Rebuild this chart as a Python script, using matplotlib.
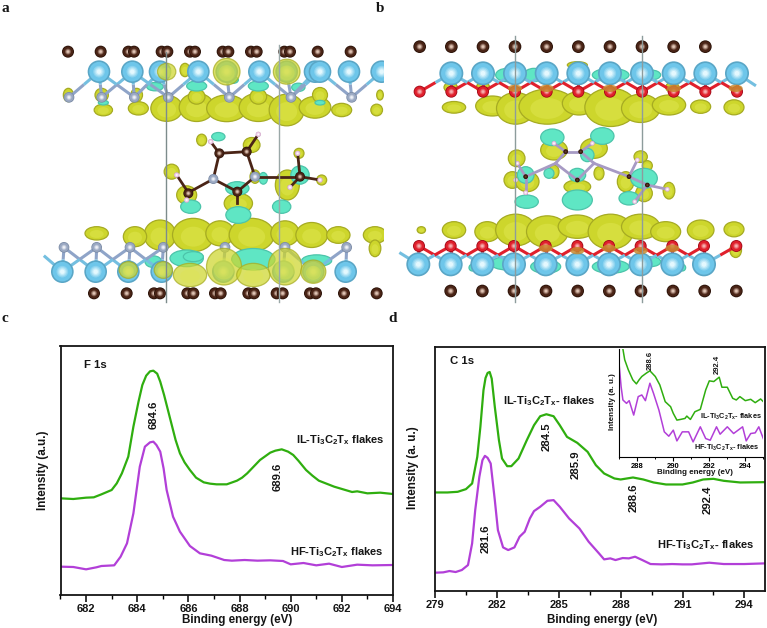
import matplotlib
matplotlib.use("Agg")
import matplotlib.pyplot as plt
import numpy as np
from matplotlib.colors import to_rgb
from matplotlib.patches import Circle, Ellipse

plt.rcParams['font.family'] = ['Liberation Sans', 'DejaVu Sans']
plt.rcParams['mathtext.default'] = 'regular'
W, H = 767, 628

# ---- XPS spectra (energy in eV, intensity in arbitrary units) ----
f1s_il_e = [681, 681.5, 682, 682.3, 682.6, 683, 683.2, 683.4, 683.65, 683.85, 684.05, 684.2, 684.35, 684.5, 684.63, 684.78, 684.9, 685.05, 685.2, 685.35, 685.5,
            685.67, 685.85, 686.06, 686.3, 686.6, 686.85, 687.1, 687.5, 687.9, 688.1, 688.3, 688.55, 688.8, 689.2, 689.4, 689.65, 689.9, 690.1, 690.3, 690.6, 690.85, 691.1, 691.7, 692.4, 692.6, 693, 693.5, 694]
f1s_il_i = [290, 288, 292, 293, 302, 315, 335, 365, 415, 505, 580, 630, 658, 671, 673, 664, 640, 600, 555, 510, 465,
            425, 398, 375, 352, 338, 334, 332, 332, 343, 352, 365, 385, 405, 427, 433, 437, 430, 420, 403, 375, 358, 343, 325, 309, 311, 305, 307, 303]
f1s_hf_e = [681, 681.5, 682, 682.4, 682.6, 683.1, 683.35, 683.6, 683.85, 684.1, 684.3, 684.5, 684.63, 684.75, 684.9, 685.03, 685.15, 685.4, 685.67, 686.06, 686.45, 686.9,
            687.4, 687.7, 688.2, 688.7, 689.2, 689.7, 690, 690.5, 691, 691.5, 692, 692.6, 693.2, 694]
f1s_hf_i = [85, 84, 77, 83, 87, 89, 115, 155, 245, 385, 445, 458, 460, 450, 430, 380, 315, 235, 190, 147, 125, 118,
            105, 103, 105, 103, 104, 102, 92, 96, 89, 94, 84, 91, 89, 90]

c1s_il_e = [279, 279.6, 280.1, 280.5, 280.8, 281.05, 281.2, 281.35, 281.45, 281.55, 281.65, 281.75, 281.9, 282.1, 282.25, 282.5, 282.7, 283.05, 283.45, 283.8, 284.1, 284.4,
            284.75, 285.05, 285.4, 285.9, 286.4, 286.8, 287.2, 287.7, 288, 288.6, 289.1, 289.6, 290.2, 291, 291.5, 292, 292.5, 293, 293.8, 295]
c1s_il_i = [296, 296, 298, 306, 323, 403, 493, 603, 640, 655, 658, 638, 553, 453, 398, 375, 375, 398, 453, 498, 525, 531,
            525, 498, 463, 445, 418, 378, 353, 338, 335, 341, 335, 326, 320, 320, 326, 335, 337, 331, 326, 327]
c1s_hf_e = [279, 279.4, 279.7, 280, 280.3, 280.6, 280.8, 280.95, 281.15, 281.3, 281.42, 281.55, 281.7, 281.9, 282.05, 282.3, 282.55, 282.85, 283.1, 283.35, 283.6, 283.8, 284.1, 284.45, 284.75,
            285.05, 285.5, 286, 286.45, 286.95, 287.2, 287.5, 287.75, 288.1, 288.4, 288.7, 289.05, 289.45, 290, 290.5, 291, 291.45, 292.3, 293, 294, 295]
c1s_hf_i = [55, 56, 60, 57, 63, 78, 143, 243, 343, 393, 406, 400, 383, 273, 183, 131, 123, 131, 163, 178, 218, 240, 253, 271, 273,
            253, 218, 188, 148, 113, 95, 98, 93, 99, 98, 103, 93, 81, 80, 81, 80, 80, 85, 81, 81, 83]

ins_il_e = [287.2, 287.3, 287.5, 287.75, 287.95, 288.1, 288.25, 288.5, 288.7, 289, 289.25, 289.55, 289.85, 290, 290.2, 290.4, 290.65, 290.75, 290.95, 291.2, 291.5,
            291.8, 292, 292.25, 292.55, 292.7, 293, 293.3, 293.5, 293.7, 294, 294.3, 294.55, 294.85, 295]
ins_il_i = [322, 290, 260, 230, 218, 230, 240, 250, 257, 240, 215, 165, 150, 130, 110, 112, 115, 122, 112, 135, 142,
            200, 227, 225, 238, 208, 208, 175, 170, 180, 168, 172, 162, 173, 165]
ins_hf_e = [287, 287.1, 287.2, 287.4, 287.55, 287.8, 288.05, 288.25, 288.45, 288.7, 288.9, 289.2, 289.5, 289.75, 290, 290.2, 290.5, 290.85, 291.1, 291.5,
            291.8, 292.05, 292.4, 292.6, 293, 293.35, 293.85, 294.05, 294.3, 294.55, 294.75, 295]
ins_hf_i = [270, 210, 170, 160, 168, 125, 180, 185, 168, 220, 190, 140, 75, 62, 80, 48, 75, 75, 45, 90,
            55, 50, 90, 68, 90, 70, 90, 48, 70, 72, 90, 55]

# ---- structure panels, positions in zoomed picture units ----
a_brown_top = [204, 302, 385, 402, 485, 502, 570, 585, 668, 685, 753, 770, 853, 870, 953, 1052]
a_ti_top = [297, 397, 480, 595, 680, 778, 860, 945, 960, 1047, 1145]
a_grey_top = [207, 305, 403, 505, 688, 873, 1055]
a_grey_bot = [192, 290, 390, 490, 675, 855, 1040]
a_ti_bot = [187, 287, 385, 485, 670, 850, 940, 1037]
a_brown_bot = [282, 380, 462, 480, 562, 580, 645, 662, 745, 762, 830, 848, 930, 948, 1032, 1130]
a_yellow = [(500, 325, 95, 78), (590, 322, 105, 85), (680, 325, 120, 80), (775, 322, 115, 85), (860, 330, 105, 95), (945, 322, 95, 65),
            (1025, 330, 60, 40), (310, 330, 55, 35), (415, 325, 60, 40), (1130, 330, 35, 35), (205, 285, 30, 40), (305, 285, 40, 40),
            (410, 285, 35, 40), (590, 290, 50, 45), (775, 290, 50, 45), (960, 285, 45, 45), (1140, 285, 20, 30), (555, 210, 30, 40),
            (605, 420, 30, 35), (515, 515, 45, 45), (560, 585, 60, 55), (755, 435, 50, 45), (765, 530, 30, 40), (715, 610, 85, 60),
            (897, 460, 30, 30), (965, 540, 30, 30), (862, 555, 72, 90),
            (480, 705, 95, 90), (580, 705, 125, 100), (660, 700, 85, 75), (755, 705, 135, 100), (855, 700, 85, 75), (935, 705, 95, 75),
            (1015, 705, 70, 50), (1125, 705, 70, 50), (290, 700, 70, 40), (405, 710, 70, 60), (1125, 745, 35, 50)]
a_over = [(680, 215, 80, 80), (860, 215, 80, 75), (500, 215, 55, 50), (672, 800, 105, 110), (855, 800, 100, 110),
          (570, 825, 100, 70), (760, 825, 100, 70), (940, 815, 75, 70), (385, 810, 55, 50), (490, 810, 55, 50)]
a_cyan = [(590, 258, 60, 30), (775, 258, 60, 30), (465, 260, 50, 25), (700, 240, 30, 20), (895, 262, 40, 25), (310, 308, 30, 14), (960, 308, 30, 14),
          (655, 410, 40, 25), (572, 620, 60, 40), (715, 645, 75, 50), (712, 565, 70, 40), (845, 620, 55, 40), (790, 535, 25, 35), (900, 525, 55, 55),
          (560, 775, 100, 50), (760, 778, 130, 65), (950, 782, 90, 35), (460, 785, 50, 35), (580, 770, 60, 30)]

b_brown_top = [107, 202, 297, 393, 488, 583, 678, 774, 869, 964]
b_ti_top = [202, 297, 393, 488, 583, 678, 774, 869, 964, 1059]
b_red_top = [107, 202, 297, 393, 488, 583, 678, 774, 869, 964, 1059]
b_red_bot = [105, 200, 295, 390, 485, 580, 675, 770, 865, 960, 1057]
b_ti_bot = [103, 200, 295, 390, 485, 580, 675, 770, 865, 960]
b_brown_bot = [200, 295, 390, 486, 581, 676, 771, 867, 962, 1057]
b_yellow = [(210, 322, 70, 35), (325, 318, 100, 60), (395, 325, 115, 95), (490, 320, 170, 105), (585, 310, 100, 70), (680, 322, 155, 115),
            (770, 325, 115, 85), (855, 315, 100, 60), (950, 320, 60, 40), (1050, 322, 60, 45),
            (398, 475, 50, 50), (385, 540, 50, 50), (430, 545, 70, 60), (510, 450, 80, 60), (630, 445, 80, 60), (510, 515, 30, 40), (645, 520, 30, 40),
            (580, 560, 80, 40), (770, 470, 40, 35), (790, 497, 30, 30), (725, 545, 50, 60), (780, 580, 50, 50), (855, 572, 35, 50),
            (210, 690, 70, 50), (112, 690, 25, 20), (310, 695, 75, 60), (395, 690, 120, 95), (490, 695, 125, 95), (580, 680, 115, 70),
            (680, 695, 135, 105), (770, 680, 115, 75), (845, 695, 90, 60), (950, 690, 80, 60), (1050, 688, 60, 45),
            (200, 262, 40, 30), (297, 262, 40, 30), (580, 195, 60, 20), (865, 262, 40, 30), (1055, 750, 35, 45)]
b_cyan = [(370, 225, 70, 40), (450, 225, 60, 40), (680, 225, 110, 40), (800, 225, 60, 30), (505, 412, 70, 50), (655, 408, 70, 50), (428, 605, 70, 40),
          (580, 600, 90, 60), (580, 525, 50, 40), (425, 525, 50, 50), (735, 595, 60, 40), (780, 535, 80, 60), (610, 465, 40, 40), (495, 520, 30, 30),
          (370, 790, 100, 40), (485, 800, 90, 40), (680, 800, 110, 40), (800, 785, 60, 30), (265, 803, 20, 20), (895, 803, 20, 20)]
b_orange = [(393, 265), (488, 265), (678, 265), (870, 265), (1055, 265), (485, 745), (675, 745), (865, 745), (580, 752), (770, 752)]

# molecule between the layers, as (x, y) ends of sticks and atoms
a_sticks = [(658, 460, 740, 455), (658, 460, 640, 537), (740, 455, 765, 530), (640, 537, 565, 578), (640, 537, 712, 575), (765, 530, 712, 575),
            (765, 530, 900, 530), (658, 460, 632, 425), (740, 455, 775, 403), (565, 578, 530, 525), (565, 578, 560, 600), (900, 530, 870, 562),
            (900, 530, 960, 540), (900, 530, 893, 460), (712, 575, 712, 610)]
a_mol_brown = [(658, 460), (740, 455), (900, 530), (565, 580), (712, 575)]
a_mol_grey = [(640, 537), (765, 530)]
a_mol_pink = [(775, 403), (632, 425), (530, 525), (560, 600), (870, 562), (960, 540), (893, 460)]
b_sticks = [(545, 455, 590, 455), (545, 455, 515, 490), (590, 455, 630, 490), (515, 490, 580, 540), (630, 490, 580, 540),
            (515, 490, 425, 530), (630, 490, 735, 530), (735, 530, 790, 555), (425, 530, 400, 490), (425, 530, 425, 578),
            (735, 530, 760, 480), (790, 555, 850, 568), (790, 555, 752, 605), (510, 430, 545, 455), (625, 430, 590, 455)]
b_mol_brown = [(545, 455), (590, 455), (580, 540), (425, 530), (735, 530), (790, 555)]
b_mol_pink = [(400, 490), (425, 578), (760, 480), (850, 568), (752, 605), (510, 430), (625, 430), (395, 540)]

YELLOW, YEDGE, YLIGHT = '#cdd62c', '#a6ab22', '#dfe650'
CYAN, CEDGE = '#5fe6c4', '#4cc4aa'
BROWN = ['#2a1208', '#4a2416', '#e0c4b4']
TI = ['#5aa6c6', '#6ec6ea', '#e4f8fe']
GREY = ['#7a8aa4', '#9aa8c2', '#f0f2f8']
RED = ['#a00a18', '#e0202c', '#f6b0b0']


def px_axes(x, y, w, h):
    # axes placed by pixel box, y measured from the top of the picture
    return fig.add_axes([x / W, 1 - (y + h) / H, w / W, h / H])


def label(x, y, s, size=8.2, weight='bold', rot=0, family=None, color='#151515'):
    fig.text(x / W, 1 - y / H, s, fontsize=size, fontweight=weight, rotation=rot, color=color,
             ha='center', va='center', family=family or ['Liberation Sans', 'DejaVu Sans'])


def blobs(ax, items, face, edge, z, alpha=1.0):
    for cx, cy, w, h in items:
        ax.add_patch(Ellipse((cx, cy), w, h, fc=face, ec=edge, lw=0.9, alpha=alpha, zorder=z))
        ax.add_patch(Ellipse((cx, cy + h * 0.05), w * 0.6, h * 0.6, fc=YLIGHT if face == YELLOW else face, ec='none', alpha=0.5 * alpha, zorder=z))


def atoms(ax, xy, r, cols, z=5):
    # shaded ball: dark rim, body colour, bright centre
    rim, body, spot = [np.array(to_rgb(c)) for c in cols]
    for x, y in xy:
        ax.add_patch(Circle((x, y), r, fc=rim, ec='none', zorder=z))
        ax.add_patch(Circle((x, y), r * 0.86, fc=body, ec='none', zorder=z))
        for f in (0.25, 0.5, 0.75, 1.0):
            col = body + (spot - body) * f
            ax.add_patch(Circle((x, y), r * (0.62 - 0.42 * f), fc=col, ec='none', zorder=z))


def row(xs, y):
    return [(x, y) for x in xs]


def bonds(ax, lower, upper, y_low, y_up, col_low, col_up):
    # diagonal and vertical sticks between two neighbouring atom rows
    for x in lower:
        for u in upper:
            if abs(u - x) < 110:
                xm, ym = (x + u) / 2, (y_low + y_up) / 2
                ax.plot([x, xm], [y_low, ym], color=col_low, lw=2.2, zorder=3, solid_capstyle='butt')
                ax.plot([xm, u], [ym, y_up], color=col_up, lw=2.2, zorder=3, solid_capstyle='butt')


def sticks(ax, segs, col):
    for x0, y0, x1, y1 in segs:
        ax.plot([x0, x1], [y0, y1], color=col, lw=2, zorder=4)


fig = plt.figure(figsize=(W / 100, H / 100), dpi=100, facecolor='white')

# panel a
ax_a = px_axes(0, 0, 384, 310)
ax_a.set_xlim(0, 1152)
ax_a.set_ylim(930, 0)
ax_a.axis('off')
blobs(ax_a, a_yellow, YELLOW, YEDGE, 2)
blobs(ax_a, a_cyan, CYAN, CEDGE, 2.5)
bonds(ax_a, a_grey_top, a_ti_top, 292, 215, '#8fa4c8', '#74bfe0')
bonds(ax_a, a_grey_bot, a_ti_bot, 742, 815, '#8fa4c8', '#74bfe0')
ax_a.plot([135, 187], [770, 815], color='#74bfe0', lw=2.2, zorder=3)
sticks(ax_a, a_sticks, '#4a2416')
atoms(ax_a, row(a_ti_top, 215), 34, TI)
atoms(ax_a, row(a_ti_bot, 815), 34, TI)
atoms(ax_a, row(a_grey_top, 292), 16, GREY)
atoms(ax_a, row(a_grey_bot, 742), 16, GREY)
blobs(ax_a, a_over, YELLOW, YEDGE, 5.5, alpha=0.72)
atoms(ax_a, row(a_brown_top, 155), 18, BROWN)
atoms(ax_a, row(a_brown_bot, 880), 18, BROWN)
atoms(ax_a, a_mol_brown, 15, BROWN)
atoms(ax_a, a_mol_grey, 15, GREY)
atoms(ax_a, a_mol_pink, 8, ['#c8a0c0', '#ecc8e6', '#ffffff'])
ax_a.plot([497, 497], [155, 905], color='#7d8c8c', lw=1, zorder=6)
ax_a.plot([836, 836], [135, 905], color='#9aa8a8', lw=1, zorder=6)

# panel b
ax_b = px_axes(384, 0, 383, 310)
ax_b.set_xlim(0, 1149)
ax_b.set_ylim(930, 0)
ax_b.axis('off')
blobs(ax_b, b_yellow, YELLOW, YEDGE, 2)
blobs(ax_b, b_cyan, CYAN, CEDGE, 2.5)
bonds(ax_b, b_red_top, b_ti_top, 275, 220, '#e0202c', '#74bfe0')
bonds(ax_b, b_red_bot, b_ti_bot, 738, 793, '#e0202c', '#74bfe0')
ax_b.plot([50, 103], [760, 793], color='#74bfe0', lw=2.2, zorder=3)
ax_b.plot([1059, 1112], [220, 255], color='#74bfe0', lw=2.2, zorder=3)
sticks(ax_b, b_sticks, '#a79ac4')
atoms(ax_b, row(b_ti_top, 220), 36, TI)
atoms(ax_b, row(b_ti_bot, 793), 36, TI)
atoms(ax_b, row(b_red_top, 275), 18, RED)
atoms(ax_b, row(b_red_bot, 738), 18, RED)
for x, y in b_orange:
    ax_b.add_patch(Ellipse((x, y), 42, 22, fc='#c98a30', ec='none', alpha=0.85, zorder=5.5))
atoms(ax_b, row(b_brown_top, 140), 19, BROWN)
atoms(ax_b, row(b_brown_bot, 873), 19, BROWN)
atoms(ax_b, b_mol_brown, 7, ['#2e1408', '#3a1c0e', '#6a4030'])
atoms(ax_b, b_mol_pink, 7, ['#c8a0c0', '#ecc8e6', '#ffffff'])
ax_b.plot([393, 393], [108, 905], color='#8d9c9c', lw=1, zorder=6)
ax_b.plot([773, 773], [108, 905], color='#8d9c9c', lw=1, zorder=6)

GREEN, PURPLE = '#2fae0f', '#b23fd8'

# panel c
ax_c = px_axes(60.5, 346, 332.5, 249)
ax_c.plot(f1s_il_e, f1s_il_i, color=GREEN, lw=1.6)
ax_c.plot(f1s_hf_e, f1s_hf_i, color=PURPLE, lw=1.6)
ax_c.set_xlim(681, 694)
ax_c.set_ylim(0, 747)
ax_c.set_yticks([])
ax_c.set_xticks(range(682, 695, 2))
ax_c.set_xticks(range(681, 695), minor=True)

# panel d
ax_d = px_axes(435, 347, 330, 244)
ax_d.plot(c1s_il_e, c1s_il_i, color=GREEN, lw=1.6)
ax_d.plot(c1s_hf_e, c1s_hf_i, color=PURPLE, lw=1.6)
ax_d.set_xlim(279, 295)
ax_d.set_ylim(0, 733)
ax_d.set_yticks([])
ax_d.set_xticks(range(279, 295, 3))
ax_d.set_xticks([279 + 1.5 * i for i in range(11)], minor=True)

for ax in (ax_c, ax_d):
    for s in ax.spines.values():
        s.set_linewidth(1.3)
        s.set_color('#151515')
    ax.tick_params(axis='x', which='major', length=5, width=1.1, labelsize=8, pad=1.5)
    ax.tick_params(axis='x', which='minor', length=3, width=1)
    for t in ax.get_xticklabels():
        t.set_fontweight('bold')
        t.set_color('#151515')

# inset of panel d
ax_in = px_axes(619.3, 349, 144, 108)
ax_in.patch.set_alpha(0)
ax_in.plot(ins_il_e, ins_il_i, color=GREEN, lw=1.1)
ax_in.plot(ins_hf_e, ins_hf_i, color=PURPLE, lw=1.1)
ax_in.set_xlim(287, 295)
ax_in.set_ylim(0, 322)
ax_in.set_yticks([])
ax_in.set_xticks(range(288, 295, 2))
ax_in.set_xticks(range(287, 296), minor=True)
ax_in.spines['top'].set_visible(False)
ax_in.spines['right'].set_visible(False)
ax_in.tick_params(axis='x', which='major', length=3, width=0.8, labelsize=5.5, pad=1)
ax_in.tick_params(axis='x', which='minor', length=1.5, width=0.7)
for t in ax_in.get_xticklabels():
    t.set_fontweight('bold')

# panel letters
serif = ['Liberation Serif', 'DejaVu Serif']
label(5, 8, 'a', size=11, family=serif)
label(380, 8, 'b', size=11, family=serif)
label(5, 318, 'c', size=11, family=serif)
label(393, 318, 'd', size=11, family=serif)

# panel c text
label(95, 365, 'F 1s')
label(154, 415, '684.6', rot=90)
label(278, 477, '689.6', rot=90)
label(340, 440, 'IL-Ti$_3$C$_2$T$_x$ flakes', size=8)
label(337, 552, 'HF-Ti$_3$C$_2$T$_x$ flakes', size=8)
label(237, 620, 'Binding energy (eV)', size=8.4)
label(43, 470, 'Intensity (a.u.)', rot=90, size=8.4)

# panel d text
label(462, 361, 'C 1s')
label(549, 401, 'IL-Ti$_3$C$_2$T$_x$- flakes', size=8)
label(547, 437, '284.5', rot=90)
label(576, 465, '285.9', rot=90)
label(634, 498, '288.6', rot=90)
label(708, 500, '292.4', rot=90)
label(486, 539, '281.6', rot=90)
label(706, 545, 'HF-Ti$_3$C$_2$T$_x$- flakes', size=8)
label(602, 620, 'Binding energy (eV)', size=8.4)
label(413, 468, 'Intensity (a. u.)', rot=90, size=8.4)

# inset text
label(650, 360, '288.6', rot=90, size=5.5)
label(717, 364, '292.4', rot=90, size=5.5)
label(731, 417, 'IL-Ti$_3$C$_2$T$_x$- flakes', size=5.3)
label(727, 448, 'HF-Ti$_3$C$_2$T$_x$- flakes', size=5.3)
label(695, 473, 'Binding energy (eV)', size=5.8)
label(612, 402, 'Intensity (a. u.)', rot=90, size=5.8)

fig.savefig('out.png', dpi=100)
